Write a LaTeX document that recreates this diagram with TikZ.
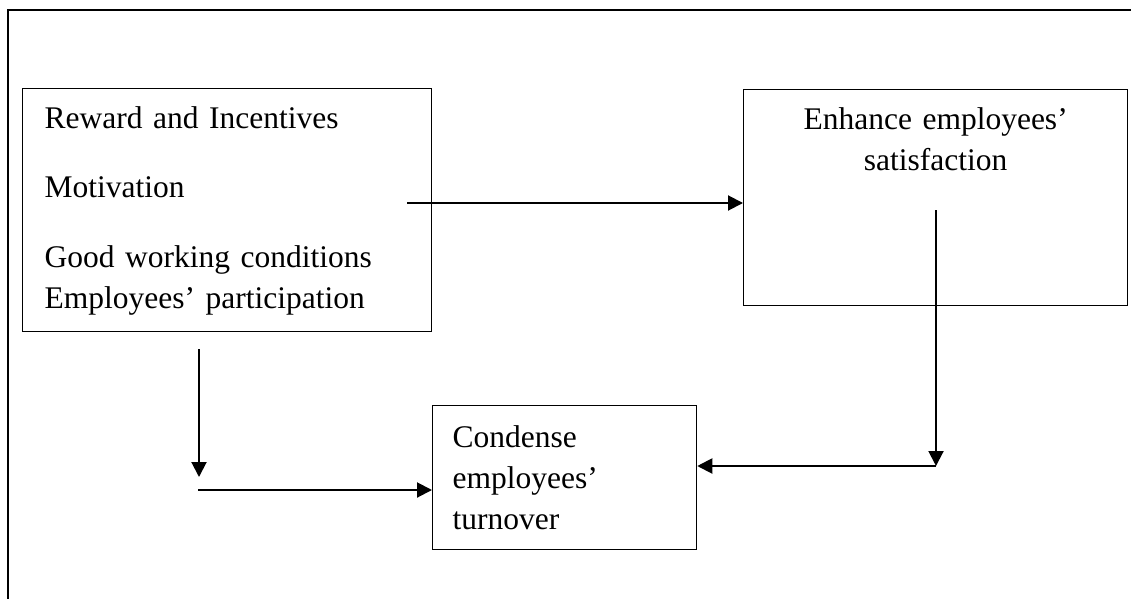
\documentclass[tikz,border=0pt]{standalone}
\usepackage{fontspec}
\setmainfont{Liberation Serif}
\usepackage{tikz}
\usetikzlibrary{arrows.meta}
\def\pxunit{0.4pt}

\begin{document}
\begin{tikzpicture}[x=\pxunit,y=-\pxunit,line width=0.8pt,>={Triangle[length=6pt,width=6pt]}]
    \tikzstyle{box}=[draw,line width=0.5pt,rectangle,anchor=north west,inner ysep=0pt,font=\fontsize{12.6pt}{16.4pt}\selectfont]
    \tikzstyle{left box}=[box,align=left,inner xsep=8.8pt]
    \tikzstyle{centre box}=[box,align=center,inner xsep=4pt]
    \tikzstyle{arrow}=[->]

    \useasboundingbox (0,0) rectangle (1131,599);

    % Draw the open frame
    \draw (1131,10) -- (8,10) -- (8,599);

    % Draw the boxes
    \node[left box,text width=146pt,text height=16pt,text depth=81.2pt] (factors) at (22,88)
        {Reward and Incentives\\[11.2pt] Motivation\\[11.6pt] Good working conditions\\ Employees' participation};
    \node[centre box,text width=145.6pt,text height=16pt,text depth=70.4pt] (satisfaction) at (743,89)
        {Enhance employees'\\ satisfaction};
    \node[left box,inner xsep=8pt,text width=89.6pt,text height=16.8pt,text depth=40.8pt] (turnover) at (432,405)
        {Condense\\ employees'\\ turnover};

    % Free ends of the arrows
    \coordinate (f-start) at (407,203);
    \coordinate (v-start) at (199,349);
    \coordinate (v-end) at (199,477);
    \coordinate (h-start) at (198,490);
    \coordinate (s-start) at (936,210);
    \coordinate (s-corner) at (936,466);

    % Connect the boxes
    \draw[arrow] (f-start) -- (f-start -| satisfaction.west);
    \draw[arrow] (v-start) -- (v-end);
    \draw[arrow] (h-start) -- (h-start -| turnover.west);
    \draw[arrow] (s-start) -- (s-corner);
    \draw[arrow] (s-corner) -- (s-corner -| turnover.east);

\end{tikzpicture}
\end{document}
